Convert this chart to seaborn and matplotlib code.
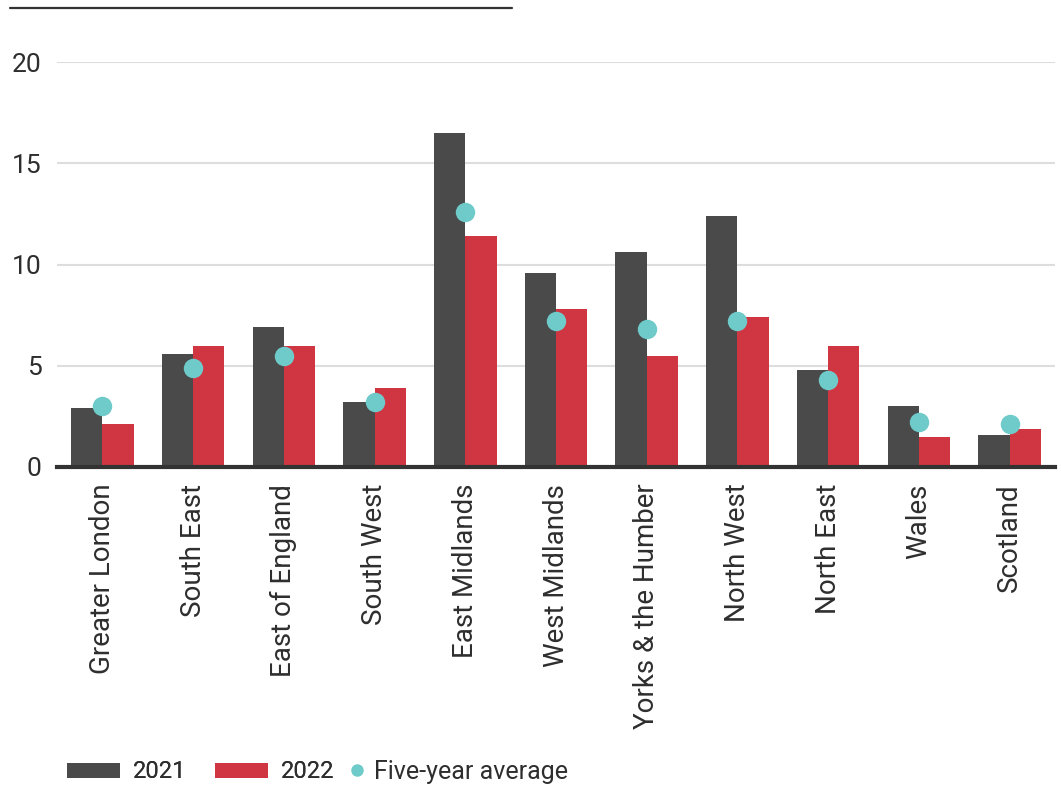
import matplotlib
matplotlib.use("Agg")
import matplotlib.pyplot as plt
from matplotlib.patches import Patch
from matplotlib.lines import Line2D
import seaborn as sns
import pandas as pd

regions = ["Greater London", "South East", "East of England", "South West",
           "East Midlands", "West Midlands", "Yorks & the Humber", "North West",
           "North East", "Wales", "Scotland"]
values_2021 = [2.9, 5.6, 6.9, 3.2, 16.5, 9.6, 10.6, 12.4, 4.8, 3.0, 1.6]
values_2022 = [2.1, 6.0, 6.0, 3.9, 11.4, 7.8, 5.5, 7.4, 6.0, 1.5, 1.9]
five_year_avg = [3.0, 4.9, 5.5, 3.2, 12.6, 7.2, 6.8, 7.2, 4.3, 2.2, 2.1]
y_ticks = [0, 5, 10, 15, 20]

c2021 = "#4a4a4a"
c2022 = "#d03642"
cavg = "#6fcaca"
text_c = "#2e2e2e"

sns.set_theme(style="white")
plt.rcParams["font.family"] = ["Roboto", "DejaVu Sans"]

bars = pd.DataFrame({
    "region": regions * 2,
    "value": values_2021 + values_2022,
    "year": ["2021"] * len(regions) + ["2022"] * len(regions),
})
avg = pd.DataFrame({"region": regions, "avg": five_year_avg})

fig = plt.figure(figsize=(10.61, 7.86), dpi=100)
ax = fig.add_axes([57 / 1061, 1 - 467 / 786, (1055 - 57) / 1061, (467 - 62) / 786])

sns.barplot(data=bars, x="region", y="value", hue="year", order=regions,
            palette={"2021": c2021, "2022": c2022}, width=0.69, gap=0,
            saturation=1, ax=ax, legend=False, edgecolor="none", linewidth=0)
sns.stripplot(data=avg, x="region", y="avg", order=regions, jitter=False,
              color=cavg, size=14, linewidth=0, ax=ax, zorder=5)

ax.set_xlim(-0.5, len(regions) - 0.5)
ax.set_ylim(0, 20)
ax.set_yticks(y_ticks)
ax.set_xlabel("")
ax.set_ylabel("")
ax.yaxis.grid(True, color="#dddddd", linewidth=1.5)
ax.set_axisbelow(True)
for s in ["top", "right", "left"]:
    ax.spines[s].set_visible(False)
ax.spines["bottom"].set_color("#333333")
ax.spines["bottom"].set_linewidth(3)
ax.tick_params(axis="both", length=0, labelcolor=text_c)
ax.tick_params(axis="x", pad=12, labelsize=20)
ax.tick_params(axis="y", pad=11, labelsize=19)
plt.setp(ax.get_xticklabels(), rotation=90)

# rule across the top
fig.add_artist(Line2D([10 / 1061, 512 / 1061], [1 - 8 / 786, 1 - 8 / 786],
                      color="#333333", linewidth=1.6, transform=fig.transFigure))

# legend: bar swatches, then the average marker with a tighter handle
bar_handles = [
    Patch(facecolor=c2021, edgecolor="none", label="2021"),
    Patch(facecolor=c2022, edgecolor="none", label="2022"),
]
leg1 = fig.legend(handles=bar_handles, loc="center left",
                  bbox_to_anchor=(67 / 1061, 1 - 772 / 786),
                  ncol=2, frameon=False, fontsize=17, labelcolor=text_c,
                  handlelength=2.25, handleheight=0.6, handletextpad=0.55,
                  columnspacing=1.2, borderaxespad=0, borderpad=0)
avg_handle = [Line2D([0], [0], marker="o", linestyle="none", markersize=9,
                     markerfacecolor=cavg, markeredgewidth=0,
                     label="Five-year average")]
fig.legend(handles=avg_handle, loc="center left",
           bbox_to_anchor=(347 / 1061, 1 - 772 / 786),
           frameon=False, fontsize=18, labelcolor=text_c,
           handlelength=0.8, handletextpad=0.3, borderaxespad=0, borderpad=0)
fig.add_artist(leg1)

fig.savefig("out.png", dpi=100)
